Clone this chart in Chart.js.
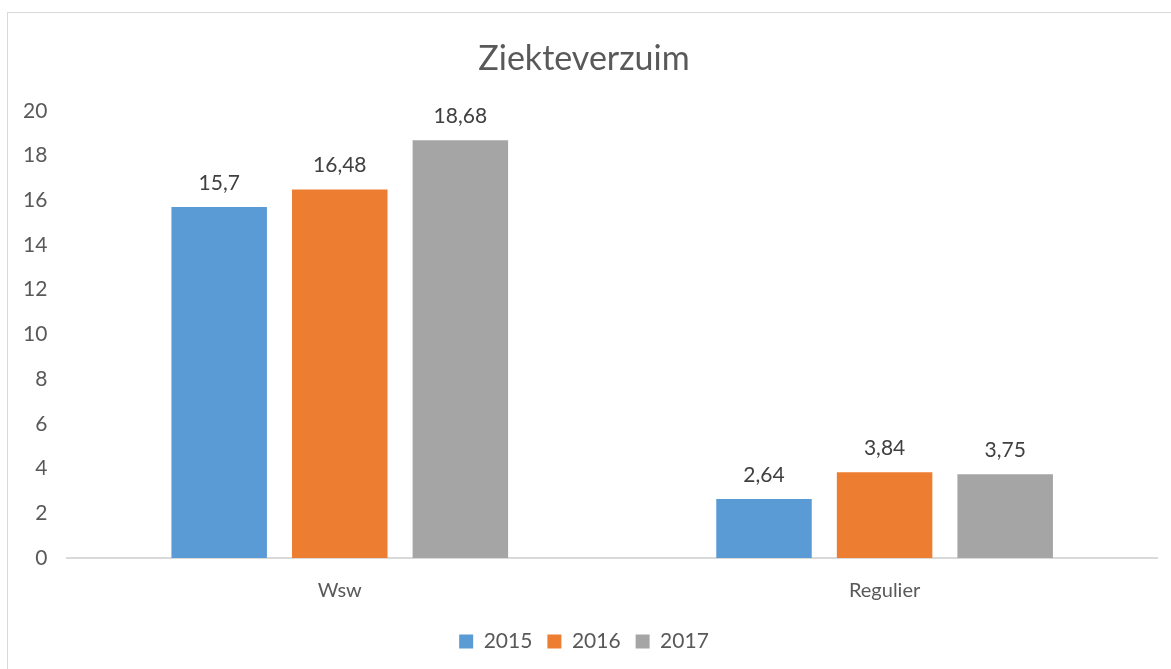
<!DOCTYPE html>
<html>
<head>
<meta charset="utf-8">
<script src="https://cdn.jsdelivr.net/npm/chart.js@4"></script>
<style>
  body { margin: 0; background: #fff; }
  #frame { position: absolute; left: 7px; top: 12px; width: 1200px; height: 700px; border: 1px solid #d9d9d9; }
  #wrap { position: absolute; left: 0; top: 0; width: 1171px; height: 669px; }
</style>
</head>
<body>
<div id="frame"></div>
<div id="wrap"><canvas id="verzuimChart" width="1171" height="669"></canvas></div>

<script>
  // data
  var categories = ['Wsw', 'Regulier'];
  var jaren = ['2015', '2016', '2017'];
  var waarden2015 = [15.7, 2.64];
  var waarden2016 = [16.48, 3.84];
  var waarden2017 = [18.68, 3.75];
  var kleuren = ['#5b9bd5', '#ed7d31', '#a5a5a5'];

  var fontFam = 'Lato, "Open Sans", sans-serif';

  // waarden boven de staven tekenen (met komma)
  var labelPlugin = {
    id: 'barLabels',
    afterDatasetsDraw: function(chart) {
      var ctx = chart.ctx;
      ctx.save();
      ctx.font = '21px ' + fontFam;
      ctx.fillStyle = '#404040';
      ctx.textAlign = 'center';
      ctx.textBaseline = 'middle';
      chart.data.datasets.forEach(function(ds, i) {
        chart.getDatasetMeta(i).data.forEach(function(bar, j) {
          var txt = String(ds.data[j]).replace('.', ',');
          ctx.fillText(txt, bar.x, bar.y - 24);
        });
      });
      ctx.restore();
    }
  };

  var ctx = document.getElementById('verzuimChart').getContext('2d');
  var verzuimChart = new Chart(ctx, {
    type: 'bar',
    data: {
      labels: categories,
      datasets: [
        { label: jaren[0], data: waarden2015, backgroundColor: kleuren[0] },
        { label: jaren[1], data: waarden2016, backgroundColor: kleuren[1] },
        { label: jaren[2], data: waarden2017, backgroundColor: kleuren[2] }
      ]
    },
    options: {
      responsive: false,
      maintainAspectRatio: false,
      animation: false,
      datasets: {
        bar: { categoryPercentage: 0.664, barPercentage: 0.792 }
      },
      layout: { padding: { left: 11, right: 14, top: 39, bottom: 7 } },
      plugins: {
        title: {
          display: true,
          text: 'Ziekteverzuim',
          color: '#595959',
          font: { family: fontFam, size: 34, weight: 'normal' },
          padding: { top: 0, bottom: 31 }
        },
        legend: {
          position: 'bottom',
          labels: {
            color: '#595959',
            font: { family: fontFam, size: 21 },
            boxWidth: 14,
            boxHeight: 14,
            padding: 15
          }
        },
        tooltip: { enabled: false }
      },
      scales: {
        x: {
          grid: { display: false },
          border: { display: true, color: '#d9d9d9', width: 2 },
          ticks: { color: '#595959', font: { family: fontFam, size: 20 }, padding: 13 }
        },
        y: {
          min: 0,
          max: 20,
          grid: { display: false },
          border: { display: false },
          ticks: { stepSize: 2, color: '#595959', font: { family: fontFam, size: 21 }, padding: 12 }
        }
      }
    },
    plugins: [labelPlugin]
  });
</script>
</body>
</html>
